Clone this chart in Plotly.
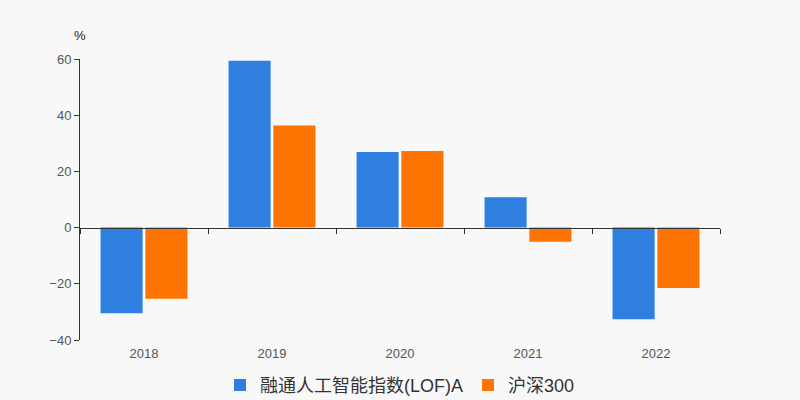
import plotly.graph_objects as go

# yearly returns, %
years = ['2018', '2019', '2020', '2021', '2022']
fund_name = '融通人工智能指数(LOF)A'
fund_returns = [-30.5, 59.4, 26.9, 10.8, -32.6]
index_name = '沪深300'
index_returns = [-25.3, 36.3, 27.3, -5.0, -21.5]
y_ticks = [-40, -20, 0, 20, 40, 60]

BLUE = '#2e7fe0'
ORANGE = '#ff7400'
AXIS = '#333333'
TEXT = '#555555'

fig = go.Figure()
fig.add_trace(go.Bar(x=years, y=fund_returns, name=fund_name,
                     marker=dict(color=BLUE, line=dict(width=0))))
fig.add_trace(go.Bar(x=years, y=index_returns, name=index_name,
                     marker=dict(color=ORANGE, line=dict(width=0))))

# invisible helper so the zero-line axis has its categories
fig.add_trace(go.Scatter(x=years, y=fund_returns, xaxis='x2', mode='none',
                         showlegend=False, hoverinfo='skip'))

fig.update_layout(
    width=800,
    height=400,
    autosize=False,
    margin=dict(l=80, r=80, t=59, b=60),
    paper_bgcolor='#f8f8f8',
    plot_bgcolor='#f8f8f8',
    font=dict(family='Liberation Sans, Noto Sans CJK SC, sans-serif',
              size=12, color=TEXT),
    barmode='group',
    bargap=0.3,
    bargroupgap=0.06,

    # labels along the bottom
    xaxis=dict(
        type='category',
        categoryorder='array',
        categoryarray=years,
        range=[-0.5, 4.5],
        showline=False,
        showgrid=False,
        zeroline=False,
        ticks='',
        ticklabelstandoff=4,
        automargin=False,
        tickfont=dict(size=13, color=TEXT),
    ),
    # axis line with boundary ticks sitting on y = 0
    xaxis2=dict(
        type='category',
        categoryorder='array',
        categoryarray=years,
        range=[-0.5, 4.5],
        overlaying='x',
        anchor='free',
        position=0.4,
        showline=True,
        linecolor=AXIS,
        linewidth=1,
        ticks='outside',
        tickson='boundaries',
        ticklen=5,
        tickcolor=AXIS,
        showticklabels=False,
        showgrid=False,
        zeroline=False,
    ),
    yaxis=dict(
        range=[-40, 60],
        tickvals=y_ticks,
        showline=True,
        linecolor=AXIS,
        linewidth=1,
        ticks='outside',
        ticklen=5,
        tickcolor=AXIS,
        showgrid=False,
        zeroline=False,
        tickfont=dict(size=13, color=TEXT),
    ),

    legend=dict(
        orientation='h',
        x=0.5,
        xanchor='center',
        yref='container',
        y=0.037,
        yanchor='middle',
        font=dict(size=18, color=AXIS),
        itemwidth=30,
        traceorder='normal',
    ),
    showlegend=True,

    annotations=[dict(
        text='%', xref='paper', yref='paper', x=0, y=1,
        xanchor='center', yanchor='bottom', yshift=14, showarrow=False,
        font=dict(size=13, color='#222222'),
    )],
)

# drop the default page margin so the 800x400 figure fills the window
fig.write_html("out.html", config={'displayModeBar': False},
               post_script="document.body.style.margin='0';")
